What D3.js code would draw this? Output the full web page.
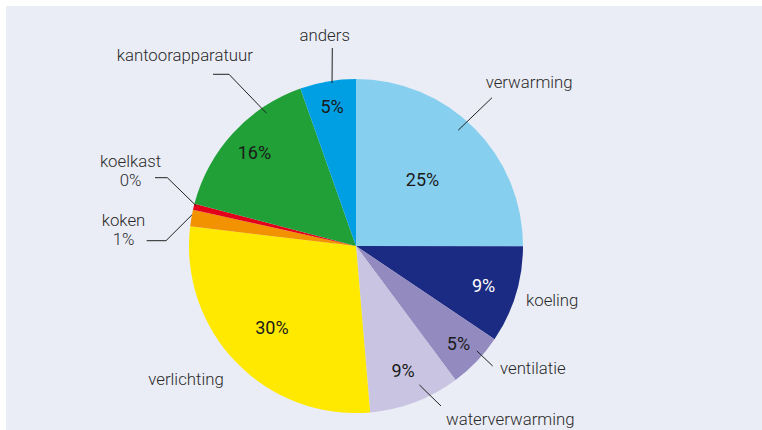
<!DOCTYPE html>
<html>
<head>
<meta charset="utf-8">
<script src="https://cdn.jsdelivr.net/npm/d3@7"></script>
<style>
  html, body { margin: 0; padding: 0; background: #ffffff; }
  svg { display: block; }
  text { font-family: Roboto, "Noto Sans", sans-serif; }
</style>
</head>
<body>
<svg id="chart" width="762" height="430"></svg>
<script>
// ---- data ----
const categories = ["verwarming", "koeling", "ventilatie", "waterverwarming", "verlichting", "koken", "koelkast", "kantoorapparatuur", "anders"];
const values = [25.0, 9.4, 5.4, 8.8, 28.2, 1.6, 0.6, 15.5, 5.4];
const pctLabels = ["25%", "9%", "5%", "9%", "30%", "1%", "0%", "16%", "5%"];
const colors = ["#87cfef", "#1b2a82", "#938bbf", "#c8c4e1", "#ffe900", "#f39200", "#e2001a", "#21a038", "#009fe3"];

// ---- layout ----
const W = 762, H = 430;
const cx = 356, cy = 246, R = 167;
// radius for inside percentage labels (null = shown outside)
const innerLabelR = [94, 133.5, 141.7, 133, 117, null, null, 138, 141.7];
const innerLabelFill = ["#1a1a1a", "#ffffff", "#1a1a1a", "#1a1a1a", "#1a1a1a", null, null, "#1a1a1a", "#1a1a1a"];
// outside labels: text position, anchor, lines; leader: fraction within slice, radius, then pixel path points
const outside = {
  "verwarming":       { x: 485.7, y: 88.3, anchor: "start", lines: ["verwarming"], leader: { t: 0.46, r: 154.5, pts: [[492, 97.7]] } },
  "koeling":          { x: 526, y: 306, anchor: "start", lines: ["koeling"] },
  "ventilatie":       { x: 500, y: 374, anchor: "start", lines: ["ventilatie"], leader: { t: 0.36, r: 160, pts: [[492.7, 366]] } },
  "waterverwarming":  { x: 446, y: 425, anchor: "start", lines: ["waterverwarming"], leader: { t: 0.38, r: 152.7, pts: [[441, 406]] } },
  "verlichting":      { x: 148.3, y: 385, anchor: "start", lines: ["verlichting"] },
  "koken":            { x: 123.5, y: 226, anchor: "middle", lines: ["koken", "1%"], leader: { t: 0.69, r: 167, pts: [[166, 240.7], [146.7, 240.7]] } },
  "koelkast":         { x: 130.5, y: 167, anchor: "middle", lines: ["koelkast", "0%"], leader: { t: 0.76, r: 165, pts: [[167.3, 177.7], [155, 177.7]] } },
  "kantoorapparatuur":{ x: 116.7, y: 61, anchor: "start", lines: ["kantoorapparatuur"], leader: { t: 0.74, r: 160, pts: [[229, 74.3], [213, 74.3]] } },
  "anders":           { x: 324.7, y: 40.7, anchor: "middle", lines: ["anders"], leader: { t: 0.57, r: 164.7, pts: [[332.3, 48]] } }
};

const svg = d3.select("#chart");
svg.append("rect").attr("x", 6).attr("y", 6).attr("width", W - 6).attr("height", H - 6).attr("fill", "#eaedf5");

const data = categories.map((c, i) => ({ name: c, value: values[i], pct: pctLabels[i], color: colors[i], i }));

const pie = d3.pie().value(d => d.value).sort(null);
const arcs = pie(data);
const arc = d3.arc().innerRadius(0).outerRadius(R);

const g = svg.append("g").attr("transform", `translate(${cx},${cy})`);

g.selectAll("path.slice").data(arcs).join("path")
  .attr("class", "slice")
  .attr("d", arc)
  .attr("fill", d => d.data.color);

// inside percentage labels
g.selectAll("text.pct").data(arcs.filter(d => innerLabelR[d.data.i] != null)).join("text")
  .attr("class", "pct")
  .attr("transform", d => {
    const r = innerLabelR[d.data.i];
    const c = d3.arc().innerRadius(r).outerRadius(r).centroid(d);
    return `translate(${c[0]},${c[1]})`;
  })
  .attr("text-anchor", "middle")
  .attr("dy", "0.36em")
  .attr("font-family", "'Open Sans', Roboto, sans-serif")
  .attr("font-size", 18)
  .attr("fill", d => innerLabelFill[d.data.i])
  .text(d => d.data.pct);

// leader lines
const line = d3.line();
arcs.forEach(d => {
  const o = outside[d.data.name];
  if (!o || !o.leader) return;
  const a = d.startAngle + o.leader.t * (d.endAngle - d.startAngle);
  const p0 = [cx + o.leader.r * Math.sin(a), cy - o.leader.r * Math.cos(a)];
  svg.append("path")
    .attr("d", line([p0, ...o.leader.pts]))
    .attr("fill", "none")
    .attr("stroke", "#222")
    .attr("stroke-width", 1);
});

// outside text labels
arcs.forEach(d => {
  const o = outside[d.data.name];
  if (!o) return;
  const t = svg.append("text")
    .attr("x", o.x).attr("y", o.y)
    .attr("text-anchor", o.anchor)
    .attr("font-size", 16.8)
    .attr("font-weight", 300)
    .attr("fill", "#2a2a2a");
  o.lines.forEach((ln, k) => {
    t.append("tspan").attr("x", o.x).attr("y", o.y + k * 18.5).text(ln);
  });
});
</script>
</body>
</html>
